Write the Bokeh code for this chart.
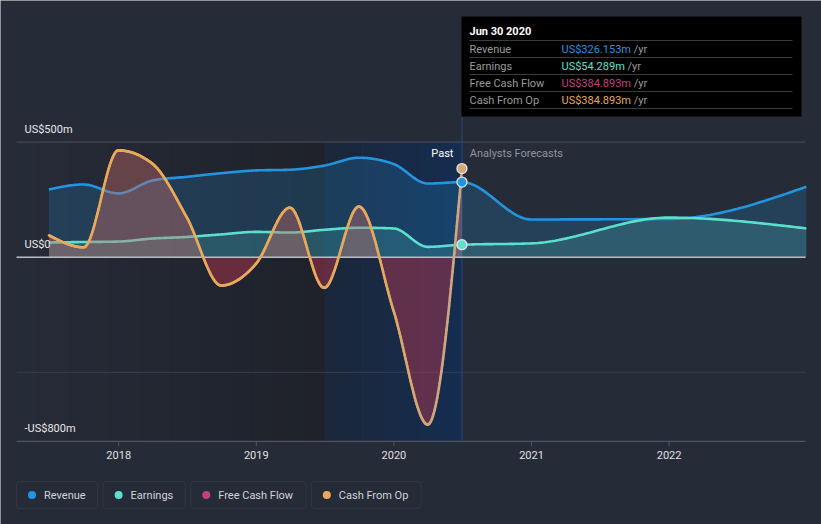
import numpy as np
import pandas as pd
from bokeh.plotting import figure
from bokeh.models import Range1d, BoxAnnotation, ColumnDataSource
from bokeh.core.properties import value
from bokeh.embed import file_html
from bokeh.resources import INLINE

# ---------------- data (US$ millions) ----------------
past_dates = ["2017-06-30", "2017-09-30", "2017-12-31", "2018-03-31", "2018-06-30",
              "2018-09-30", "2018-12-31", "2019-03-31", "2019-06-30", "2019-09-30",
              "2019-12-31", "2020-03-31", "2020-06-30"]
forecast_dates = ["2020-12-31", "2021-12-31", "2022-12-31"]

revenue = [294, 316, 277, 333, 349, 365, 377, 380, 398, 432, 405, 320, 326.153]
revenue_forecast = [164, 166, 306]
earnings = [64, 66, 68, 81, 88, 99, 110, 107, 119, 128, 125, 45, 54.289]
earnings_forecast = [60, 172, 125]
free_cash_flow = [95, 43, 464, 407, 175, -123, -29, 215, -133, 220, -232, -727, 384.893]
cash_from_op = [95, 43, 464, 407, 175, -123, -29, 215, -133, 220, -232, -727, 384.893]

y_tick_values = [500, 0, -800]
y_tick_labels = ["US$500m", "US$0", "-US$800m"]
grid_values = [500, -500]
x_tick_years = [2018, 2019, 2020, 2021, 2022]
x_tick_labels = ["2018", "2019", "2020", "2021", "2022"]

series_names = ["Revenue", "Earnings", "Free Cash Flow", "Cash From Op"]
series_colors = ["#2394df", "#5ae0cd", "#c2407e", "#e9a95b"]
tooltip_title = "Jun 30 2020"
tooltip_values = ["US$326.153m", "US$54.289m", "US$384.893m", "US$384.893m"]
tooltip_suffix = "/yr"

# ---------------- styling / layout ----------------
BG = "#262b38"
FONT = value("Roboto")
W, H = 821, 524
X_PX_2018 = 118.2
PX_PER_YEAR = 137.6
Y_PX_ZERO = 256.7
PX_PER_M = 0.2302


def px2x(p):
    return 2018 + (p - X_PX_2018) / PX_PER_YEAR


def py2y(p):
    return (Y_PX_ZERO - p) / PX_PER_M


def dpx(w):
    return w / PX_PER_YEAR


def dpy(h):
    return h / PX_PER_M


def frac_year(d):
    d = pd.Timestamp(d)
    s = pd.Timestamp(year=d.year, month=1, day=1)
    e = pd.Timestamp(year=d.year + 1, month=1, day=1)
    return d.year + (d - s) / (e - s)


EM = {'a': .543, 'b': .548, 'c': .511, 'd': .55, 'e': .517, 'f': .346, 'g': .548, 'h': .538,
      'i': .238, 'l': .238, 'm': .855, 'n': .539, 'o': .557, 'p': .548, 'r': .331, 's': .503,
      't': .319, 'u': .538, 'v': .473, 'w': .733, 'y': .462, 'C': .635, 'E': .568, 'F': .552,
      'O': .672, 'R': .615, 'U': .646, 'S': .594, '$': .562, '.': .257, ' ': .248, '/': .41}


def text_width(s, size=11):
    return sum(EM.get(ch, .562) for ch in s) * size


def monotone(xs, ys, n=40):
    x = np.asarray(xs, float)
    y = np.asarray(ys, float)
    m = len(x)
    h = np.diff(x)
    s = np.diff(y) / h
    t = np.zeros(m)
    for i in range(1, m - 1):
        s0, s1 = s[i - 1], s[i]
        pp = (s0 * h[i] + s1 * h[i - 1]) / (h[i - 1] + h[i])
        t[i] = (np.sign(s0) + np.sign(s1)) * min(abs(s0), abs(s1), 0.5 * abs(pp))
    t[0] = (3 * s[0] - t[1]) / 2
    t[-1] = (3 * s[-1] - t[-2]) / 2
    ox, oy = [], []
    for i in range(m - 1):
        u = np.linspace(0, 1, n, endpoint=False)
        h00 = 2 * u**3 - 3 * u**2 + 1
        h10 = u**3 - 2 * u**2 + u
        h01 = -2 * u**3 + 3 * u**2
        h11 = u**3 - u**2
        ox.extend(x[i] + u * h[i])
        oy.extend(h00 * y[i] + h10 * h[i] * t[i] + h01 * y[i + 1] + h11 * h[i] * t[i + 1])
    ox.append(x[-1])
    oy.append(y[-1])
    return np.array(ox), np.array(oy)


def mix(c1, c2, t):
    return "#%02x%02x%02x" % tuple(int(round(a + (b - a) * t)) for a, b in zip(c1, c2))


xp = [frac_year(d) for d in past_dates]
xf = [frac_year(d) for d in forecast_dates]
x_all = xp + xf
past_end = xp[-1]
past_start = frac_year("2019-06-30")

p = figure(width=W, height=H,
           x_range=Range1d(px2x(0), px2x(W)), y_range=Range1d(py2y(H), py2y(0)),
           x_axis_type=None, y_axis_type=None, toolbar_location=None,
           output_backend="svg", min_border=0, title=None,
           background_fill_color=BG, border_fill_color=BG, outline_line_color=None)

x_left = px2x(16)
x_right = px2x(805)
top_v = grid_values[0]
bot_v = y_tick_values[-1]

# background shading: darkening band then the "past year" highlight
N = 30
edges = np.linspace(x_left, past_start, N + 1)
p.quad(left=edges[:-1], right=edges[1:] + dpx(0.6), top=top_v, bottom=bot_v,
       fill_color=[mix((38, 43, 56), (31, 34, 43), i / (N - 1)) for i in range(N)], line_color=None)
edges = np.linspace(past_start, past_end, N + 1)
p.quad(left=edges[:-1], right=edges[1:] + dpx(0.6), top=top_v, bottom=bot_v,
       fill_color=[mix((27, 39, 58), (21, 45, 80), i / (N - 1)) for i in range(N)], line_color=None)

# grid lines and bottom axis
p.segment(x0=x_left, x1=x_right, y0=[grid_values[1]], y1=[grid_values[1]], line_color="#383e4c", line_width=1)
p.segment(x0=x_left, x1=x_right, y0=[top_v], y1=[top_v], line_color="#4a505d", line_width=1)
p.segment(x0=x_left, x1=x_right, y0=[bot_v], y1=[bot_v], line_color="#4f5564", line_width=1.3)
p.segment(x0=x_tick_years, x1=x_tick_years, y0=bot_v, y1=bot_v - dpy(5), line_color="#4f5564", line_width=1)

# vertical "now" line
p.segment(x0=[past_end], x1=[past_end], y0=[bot_v], y1=[py2y(116)], line_color="#2a4a78", line_width=1)

# revenue & earnings
rx, ry = monotone(x_all, revenue + revenue_forecast)
ex, ey = monotone(x_all, earnings + earnings_forecast)
p.varea(x=rx, y1=0, y2=ry, fill_color=series_colors[0], fill_alpha=0.2)
p.varea(x=ex, y1=0, y2=ey, fill_color=series_colors[1], fill_alpha=0.18)
p.line(rx, ry, line_color=series_colors[0], line_width=2.6)
p.line(ex, ey, line_color=series_colors[1], line_width=2.6)

# free cash flow / cash from op areas
fx, fy = monotone(xp, free_cash_flow)
cx, cy = monotone(xp, cash_from_op)
p.varea(x=fx, y1=0, y2=np.maximum(fy, 0), fill_color="#c86e6a", fill_alpha=0.4)
p.varea(x=fx, y1=0, y2=np.minimum(fy, 0), fill_color="#c83a52", fill_alpha=0.42)

# zero line
p.segment(x0=[x_left], x1=[x_right], y0=[0], y1=[0], line_color="#b9bcc4", line_width=1.6)

# cash from op line (fades to tan inside the last period)
orange = (233, 169, 91)
tan = (206, 166, 128)
seg_xs = [[cx[i], cx[i + 1]] for i in range(len(cx) - 1)]
seg_ys = [[cy[i], cy[i + 1]] for i in range(len(cy) - 1)]
seg_c = [mix(orange, tan, float(np.clip((cx[i] - 2019.85) / 0.45, 0, 1))) for i in range(len(cx) - 1)]
p.multi_line(xs="xs", ys="ys", line_color="c", line_width=2.6, line_cap="round",
             source=ColumnDataSource(dict(xs=seg_xs, ys=seg_ys, c=seg_c)))

# markers at the last reported date
p.scatter([past_end] * 3, [cash_from_op[-1], revenue[-1], earnings[-1]], size=10,
          fill_color=["#d6a878", series_colors[0], series_colors[1]],
          line_color="#e4e4e4", line_width=1.3)

# axis labels
p.text(x=[px2x(24)] * 3, y=[v + dpy(12.5) for v in y_tick_values], text=y_tick_labels,
       text_font=FONT, text_font_size=value("11px"), text_color="#e8e8e8",
       text_baseline="middle", text_align="left")
p.text(x=x_tick_years, y=[bot_v - dpy(13.5)] * len(x_tick_years), text=x_tick_labels,
       text_font=FONT, text_font_size=value("11px"), text_color="#e0e0e0",
       text_baseline="middle", text_align="center")
p.text(x=[past_end - dpx(8.5)], y=[top_v - dpy(11.8)], text=["Past"],
       text_font=FONT, text_font_size=value("11px"), text_color="#ffffff",
       text_baseline="middle", text_align="right")
p.text(x=[past_end + dpx(7.8)], y=[top_v - dpy(11.8)], text=["Analysts Forecasts"],
       text_font=FONT, text_font_size=value("11px"), text_color="#8f949e",
       text_baseline="middle", text_align="left")

# tooltip box
p.quad(left=[px2x(461)], right=[px2x(801)], top=[py2y(16)], bottom=[py2y(116)],
       fill_color="#000000", line_color=None)
p.text(x=[px2x(469)], y=[py2y(31)], text=[tooltip_title], text_font=FONT,
       text_font_size=value("11px"), text_font_style="bold", text_color="#ffffff",
       text_baseline="middle", text_align="left")
sep_py = [40 + 17 * i for i in range(5)]
p.segment(x0=px2x(469), x1=px2x(792), y0=[py2y(v) for v in sep_py], y1=[py2y(v) for v in sep_py],
          line_color="#3c3c3c", line_width=1)
row_py = [48.5 + 17 * i for i in range(4)]
p.text(x=[px2x(469)] * 4, y=[py2y(v) for v in row_py], text=series_names, text_font=FONT,
       text_font_size=value("11px"), text_color="#9a9a9a", text_baseline="middle", text_align="left")
p.text(x=[px2x(561)] * 4, y=[py2y(v) for v in row_py], text=tooltip_values, text_font=FONT,
       text_font_size=value("11px"), text_color=series_colors, text_baseline="middle", text_align="left")
p.text(x=[px2x(561 + text_width(s) + 3) for s in tooltip_values], y=[py2y(v) for v in row_py],
       text=[tooltip_suffix] * 4, text_font=FONT, text_font_size=value("11px"), text_color="#9a9a9a",
       text_baseline="middle", text_align="left")

# legend
left = 16
dot_x, txt_x = [], []
for name, col in zip(series_names, series_colors):
    right = left + 27.5 + text_width(name) * 1.03 + 11.5
    p.add_layout(BoxAnnotation(left=px2x(left), right=px2x(right), top=py2y(481), bottom=py2y(508),
                               fill_alpha=0, line_color="#4a505d", line_width=1, border_radius=3))
    dot_x.append(px2x(left + 15.5))
    txt_x.append(px2x(left + 27.5))
    left = right + 5.5
p.scatter(dot_x, [py2y(494.5)] * 4, size=8, fill_color=series_colors, line_color=None)
p.text(x=txt_x, y=[py2y(494.5)] * 4, text=series_names, text_font=FONT,
       text_font_size=value("11px"), text_color="#d0d3d8", text_baseline="middle", text_align="left")

html = file_html(p, INLINE)
html = html.replace("<body>", '<body style="background:%s">' % BG, 1)
open("out.html", "w").write(html)
